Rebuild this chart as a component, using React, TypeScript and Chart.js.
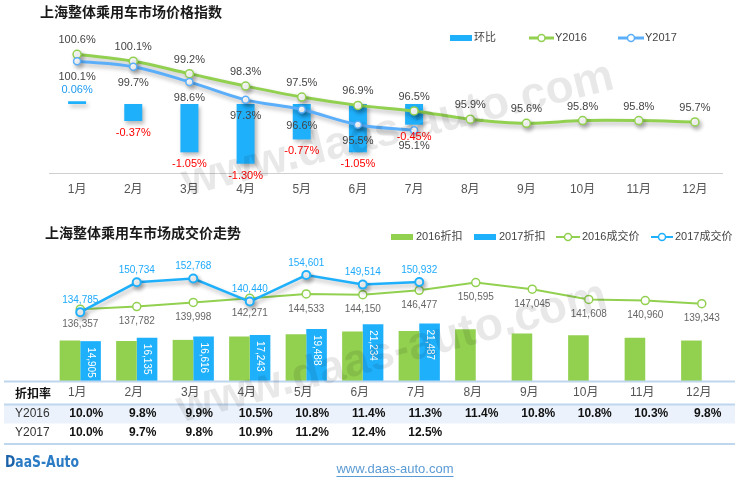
import React, { useEffect, useRef } from 'react';
import { Chart, registerables } from 'chart.js';

Chart.register(...registerables);

// ---------------- data ----------------
const months = ['1月', '2月', '3月', '4月', '5月', '6月', '7月', '8月', '9月', '10月', '11月', '12月'];
const momChange = [0.06, -0.37, -1.05, -1.3, -0.77, -1.05, -0.45];
const index2016 = [100.6, 100.1, 99.2, 98.3, 97.5, 96.9, 96.5, 95.9, 95.6, 95.8, 95.8, 95.7];
const index2017 = [100.1, 99.7, 98.6, 97.3, 96.6, 95.5, 95.1];

const discount2016 = [15150, 14970, 15380, 16690, 17500, 18550, 18660, 19380, 17800, 17150, 16190, 15140];
const discount2017 = [14905, 16135, 16616, 17243, 19488, 21234, 21487];
const price2016 = [136357, 137782, 139998, 142271, 144533, 144150, 146477, 150595, 147045, 141608, 140960, 139343];
const price2017 = [134785, 150734, 152768, 140440, 154601, 149514, 150932];
const rate2016 = [10.0, 9.8, 9.9, 10.5, 10.8, 11.4, 11.3, 11.4, 10.8, 10.8, 10.3, 9.8];
const rate2017 = [10.0, 9.7, 9.8, 10.9, 11.2, 12.4, 12.5];

const topTitle = '上海整体乘用车市场价格指数';
const bottomTitle = '上海整体乘用车市场成交价走势';
const topLegend = ['环比', 'Y2016', 'Y2017'];
const bottomLegend = ['2016折扣', '2017折扣', '2016成交价', '2017成交价'];
const tableHeader = '折扣率';
const rowNames = ['Y2016', 'Y2017'];
const watermark = 'www.daas-auto.com';
const logoText = 'DaaS-Auto';
const linkText = 'www.daas-auto.com';

// ---------------- styles ----------------
const FONT = '"Liberation Sans", "Noto Sans CJK SC", Arial, sans-serif';
const CJK = '"Noto Sans CJK SC", "Liberation Sans", sans-serif';
const GREEN = '#92d050';
const BLUE = '#1fb0fc';
const LBLUE = '#5aaefa';

const fmtComma = (v: number) => v.toLocaleString('en-US');

function txt(ctx: CanvasRenderingContext2D, s: string, x: number, y: number, font: string, color: string, align: CanvasTextAlign = 'center') {
  ctx.font = font;
  ctx.fillStyle = color;
  ctx.textAlign = align;
  ctx.textBaseline = 'middle';
  ctx.fillText(s, x, y);
}

function drawWatermark(ctx: CanvasRenderingContext2D, cx: number, cy: number, angle: number) {
  ctx.save();
  ctx.translate(cx, cy);
  ctx.rotate((-angle * Math.PI) / 180);
  ctx.font = 'bold 46px ' + FONT;
  ctx.fillStyle = 'rgba(0,0,0,0.09)';
  ctx.textAlign = 'center';
  ctx.textBaseline = 'middle';
  ctx.fillText(watermark, 0, 0);
  ctx.restore();
}

function rectSwatch(ctx: CanvasRenderingContext2D, x: number, y: number, w: number, color: string) {
  ctx.fillStyle = color;
  ctx.fillRect(x, y - 3, w, 6);
}

function lineSwatch(ctx: CanvasRenderingContext2D, x: number, y: number, w: number, color: string, lw: number) {
  ctx.strokeStyle = color;
  ctx.lineWidth = lw;
  ctx.beginPath();
  ctx.moveTo(x, y);
  ctx.lineTo(x + w, y);
  ctx.stroke();
  ctx.beginPath();
  ctx.arc(x + w / 2, y, 3.5, 0, Math.PI * 2);
  ctx.fillStyle = '#fff';
  ctx.fill();
  ctx.lineWidth = 1.5;
  ctx.stroke();
}

const shadowPlugin = {
  id: 'dsShadow',
  beforeDatasetDraw(chart: any, args: any) {
    const ds = chart.data.datasets[args.index];
    if (ds.shadow) {
      const ctx = chart.ctx;
      ctx.save();
      ctx.shadowColor = 'rgba(0,0,0,0.28)';
      ctx.shadowBlur = 4;
      ctx.shadowOffsetX = 2;
      ctx.shadowOffsetY = 3;
    }
  },
  afterDatasetDraw(chart: any, args: any) {
    const ds = chart.data.datasets[args.index];
    if (ds.shadow) chart.ctx.restore();
  },
};

// ---------------- top chart plugin ----------------
const topDecor = {
  id: 'topDecor',
  beforeDatasetsDraw(chart: any) {
    const ctx = chart.ctx;
    const a = chart.chartArea;
    ctx.save();
    ctx.strokeStyle = '#cfcfcf';
    ctx.lineWidth = 1;
    ctx.beginPath();
    ctx.moveTo(a.left, a.bottom + 0.5);
    ctx.lineTo(a.right, a.bottom + 0.5);
    ctx.stroke();
    ctx.restore();
  },
  afterDatasetsDraw(chart: any) {
    const ctx = chart.ctx;
    const a = chart.chartArea;
    const xs = chart.scales.x;
    ctx.save();
    months.forEach((m, i) => txt(ctx, m, xs.getPixelForValue(i), a.bottom + 17, '12px ' + FONT, '#555'));
    chart.data.datasets.forEach((ds: any, di: number) => {
      const meta = chart.getDatasetMeta(di);
      meta.data.forEach((el: any, i: number) => {
        const v = ds.data[i];
        if (v == null) return;
        if (ds.lbl === 'mom') {
          if (v >= 0) txt(ctx, v.toFixed(2) + '%', el.x, el.y - 11, '11px ' + FONT, '#1e9bf0');
          else txt(ctx, v.toFixed(2) + '%', el.x, el.y + 12, '11px ' + FONT, '#ff0000');
        } else if (ds.lbl === 'i16') {
          txt(ctx, v.toFixed(1) + '%', el.x, el.y - 14, '11px ' + FONT, '#444');
        } else if (ds.lbl === 'i17') {
          txt(ctx, v.toFixed(1) + '%', el.x, el.y + 16, '11px ' + FONT, '#444');
        }
      });
    });
    // title
    txt(ctx, topTitle, 40, 12, 'bold 14px ' + CJK, '#1a1a1a', 'left');
    // legend
    const ly = 38;
    rectSwatch(ctx, 450, ly, 22, BLUE);
    txt(ctx, topLegend[0], 474, ly, '11px ' + FONT, '#444', 'left');
    lineSwatch(ctx, 529, ly, 25, GREEN, 3);
    txt(ctx, topLegend[1], 555, ly, '11px ' + FONT, '#444', 'left');
    lineSwatch(ctx, 618, ly, 26, LBLUE, 3);
    txt(ctx, topLegend[2], 645, ly, '11px ' + FONT, '#444', 'left');
    drawWatermark(ctx, 398, 130, 14);
    ctx.restore();
  },
};

// ---------------- bottom chart plugin ----------------
const OFF = 215; // page y of bottom canvas
const bottomDecor = {
  id: 'bottomDecor',
  afterDatasetsDraw(chart: any) {
    const ctx = chart.ctx;
    const xs = chart.scales.x;
    ctx.save();
    // data labels
    chart.data.datasets.forEach((ds: any, di: number) => {
      const meta = chart.getDatasetMeta(di);
      meta.data.forEach((el: any, i: number) => {
        const v = ds.data[i];
        if (v == null) return;
        if (ds.lbl === 'd17') {
          ctx.save();
          ctx.translate(el.x, el.y + 6);
          ctx.rotate(Math.PI / 2);
          txt(ctx, fmtComma(v), 0, 0, '10px ' + FONT, '#ffffff', 'left');
          ctx.restore();
        } else if (ds.lbl === 'p16') {
          txt(ctx, fmtComma(v), el.x, el.y + 15, '10px ' + FONT, '#666', 'center');
        } else if (ds.lbl === 'p17') {
          txt(ctx, fmtComma(v), el.x, el.y - 12, '10px ' + FONT, '#1eaafc', 'center');
        }
      });
    });
    // title
    txt(ctx, bottomTitle, 45, 232.5 - OFF, 'bold 14px ' + CJK, '#1a1a1a', 'left');
    // legend
    const ly = 237 - OFF;
    rectSwatch(ctx, 391, ly, 22, GREEN);
    txt(ctx, bottomLegend[0], 416, ly, '11px ' + FONT, '#444', 'left');
    rectSwatch(ctx, 474, ly, 22, BLUE);
    txt(ctx, bottomLegend[1], 499, ly, '11px ' + FONT, '#444', 'left');
    lineSwatch(ctx, 556, ly, 24, GREEN, 2);
    txt(ctx, bottomLegend[2], 582, ly, '11px ' + FONT, '#444', 'left');
    lineSwatch(ctx, 651, ly, 22, BLUE, 2);
    txt(ctx, bottomLegend[3], 675, ly, '11px ' + FONT, '#444', 'left');

    // table
    const L = 4, R = 735;
    ctx.fillStyle = '#ebf2fb';
    ctx.fillRect(L, 405 - OFF, R - L, 18.5);
    ctx.strokeStyle = '#bfd6ef';
    ctx.lineWidth = 2;
    [381.5, 404.5, 444].forEach((y) => {
      ctx.beginPath();
      ctx.moveTo(L, y - OFF);
      ctx.lineTo(R, y - OFF);
      ctx.stroke();
    });
    txt(ctx, tableHeader, 15, 393 - OFF, 'bold 12px ' + CJK, '#111', 'left');
    txt(ctx, rowNames[0], 15, 414 - OFF, '12px ' + FONT, '#333', 'left');
    txt(ctx, rowNames[1], 15, 433 - OFF, '12px ' + FONT, '#333', 'left');
    months.forEach((m, i) => {
      const x = xs.getPixelForValue(i);
      txt(ctx, m, x - 3, 393 - OFF, '12px ' + FONT, '#555');
      if (rate2016[i] != null) txt(ctx, rate2016[i].toFixed(1) + '%', x + 6, 414 - OFF, 'bold 12px ' + FONT, '#111');
      if (rate2017[i] != null) txt(ctx, rate2017[i].toFixed(1) + '%', x + 6, 433 - OFF, 'bold 12px ' + FONT, '#111');
    });

    // footer logo
    ctx.save();
    ctx.font = 'bold 16px "DejaVu Sans Condensed", "Liberation Sans Narrow", ' + FONT;
    const w = ctx.measureText(logoText).width;
    ctx.translate(5, 463 - OFF);
    ctx.scale(74 / w, 1);
    ctx.textAlign = 'left';
    ctx.textBaseline = 'middle';
    ctx.fillStyle = '#1c62a8';
    ctx.fillText(logoText.slice(0, 1), 0, 0);
    const dw = ctx.measureText(logoText.slice(0, 1)).width;
    ctx.fillStyle = '#2b7cc4';
    ctx.fillText(logoText.slice(1), dw, 0);
    ctx.restore();

    // footer link
    ctx.font = '13px ' + FONT;
    const lw = ctx.measureText(linkText).width;
    txt(ctx, linkText, 395, 469 - OFF, '13px ' + FONT, '#5b9bd5');
    ctx.strokeStyle = '#5b9bd5';
    ctx.lineWidth = 1;
    ctx.beginPath();
    ctx.moveTo(395 - lw / 2, 476.5 - OFF);
    ctx.lineTo(395 + lw / 2, 476.5 - OFF);
    ctx.stroke();

    drawWatermark(ctx, 392, 353 - OFF, 15);
    ctx.restore();
  },
};

function TopChart() {
  const ref = useRef<HTMLCanvasElement>(null);
  useEffect(() => {
    const chart = new Chart(ref.current!, {
      type: 'bar',
      data: {
        labels: months,
        datasets: [
          {
            type: 'line',
            label: topLegend[1],
            data: index2016,
            yAxisID: 'yLine',
            borderColor: GREEN,
            borderWidth: 3,
            tension: 0.35,
            pointRadius: 4,
            pointBackgroundColor: '#fff',
            pointBorderColor: GREEN,
            pointBorderWidth: 1.5,
            order: 1,
            shadow: true,
            lbl: 'i16',
          } as any,
          {
            type: 'line',
            label: topLegend[2],
            data: index2017,
            yAxisID: 'yLine',
            borderColor: LBLUE,
            borderWidth: 3,
            tension: 0.35,
            pointRadius: 3.5,
            pointBackgroundColor: '#fff',
            pointBorderColor: LBLUE,
            pointBorderWidth: 1.5,
            order: 0,
            shadow: true,
            lbl: 'i17',
          } as any,
          {
            type: 'bar',
            label: topLegend[0],
            data: momChange,
            yAxisID: 'yBar',
            backgroundColor: BLUE,
            barPercentage: 0.32,
            categoryPercentage: 1,
            order: 2,
            shadow: true,
            lbl: 'mom',
          } as any,
        ],
      },
      options: {
        responsive: false,
        animation: false,
        layout: { padding: { left: 49, right: 18, top: 35, bottom: 42 } },
        plugins: { legend: { display: false }, title: { display: false }, tooltip: { enabled: false } },
        scales: {
          x: { display: false, offset: true },
          yBar: { display: false, min: -1.5, max: 1.5 },
          yLine: { display: false, min: 92, max: 102 },
        },
      },
      plugins: [shadowPlugin, topDecor],
    });
    return () => chart.destroy();
  }, []);
  return <canvas ref={ref} width={741} height={215} style={{ display: 'block', width: 741, height: 215 }} />;
}

function BottomChart() {
  const ref = useRef<HTMLCanvasElement>(null);
  useEffect(() => {
    const chart = new Chart(ref.current!, {
      type: 'bar',
      data: {
        labels: months,
        datasets: [
          {
            type: 'line',
            label: bottomLegend[3],
            data: price2017,
            yAxisID: 'yLine',
            borderColor: BLUE,
            borderWidth: 2.5,
            tension: 0,
            pointRadius: 4,
            pointBackgroundColor: '#fff',
            pointBorderColor: BLUE,
            pointBorderWidth: 2,
            order: 0,
            shadow: true,
            lbl: 'p17',
          } as any,
          {
            type: 'line',
            label: bottomLegend[2],
            data: price2016,
            yAxisID: 'yLine',
            borderColor: GREEN,
            borderWidth: 2,
            tension: 0,
            pointRadius: 4,
            pointBackgroundColor: '#fff',
            pointBorderColor: GREEN,
            pointBorderWidth: 1.5,
            order: 1,
            lbl: 'p16',
          } as any,
          {
            type: 'bar',
            label: bottomLegend[0],
            data: discount2016,
            yAxisID: 'yBar',
            backgroundColor: GREEN,
            barPercentage: 1,
            categoryPercentage: 0.73,
            order: 2,
            lbl: 'd16',
          } as any,
          {
            type: 'bar',
            label: bottomLegend[1],
            data: discount2017,
            yAxisID: 'yBar',
            backgroundColor: BLUE,
            barPercentage: 1,
            categoryPercentage: 0.73,
            order: 2,
            lbl: 'd17',
          } as any,
        ],
      },
      options: {
        responsive: false,
        animation: false,
        layout: { padding: { left: 52, right: 11, top: 35, bottom: 102 } },
        plugins: { legend: { display: false }, title: { display: false }, tooltip: { enabled: false } },
        scales: {
          x: { display: false, offset: true },
          yBar: { display: false, min: 0, max: 49000 },
          yLine: { display: false, min: 98000, max: 168000 },
        },
      },
      plugins: [shadowPlugin, bottomDecor],
    });
    return () => chart.destroy();
  }, []);
  return <canvas ref={ref} width={741} height={268} style={{ display: 'block', width: 741, height: 268 }} />;
}

export default function App() {
  return (
    <div style={{ position: 'absolute', left: 0, top: 0, width: 741, height: 483, background: '#fff', overflow: 'hidden' }}>
      <TopChart />
      <BottomChart />
    </div>
  );
}
